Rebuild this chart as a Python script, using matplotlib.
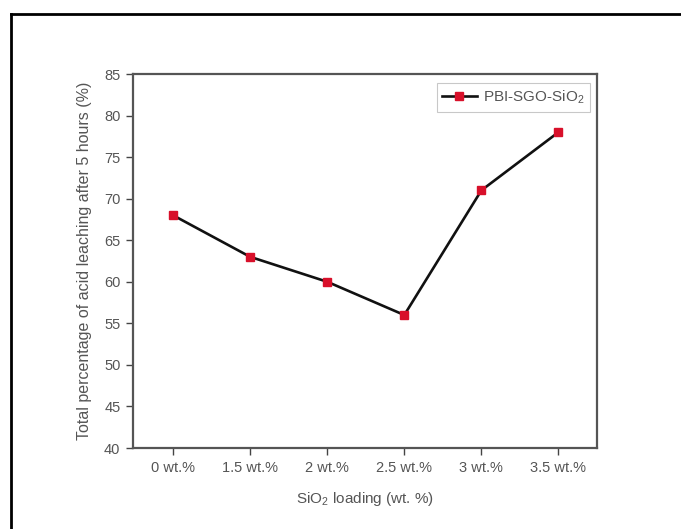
import matplotlib
matplotlib.use("Agg")
import matplotlib.pyplot as plt
from matplotlib.lines import Line2D

categories = ["0 wt.%", "1.5 wt.%", "2 wt.%", "2.5 wt.%", "3 wt.%", "3.5 wt.%"]
values = [68, 63, 60, 56, 71, 78]
series_name = "PBI-SGO-SiO$_2$"
yticks = [40, 45, 50, 55, 60, 65, 70, 75, 80, 85]

plt.rcParams['font.family'] = ['Liberation Sans', 'DejaVu Sans']
plt.rcParams['mathtext.fontset'] = 'custom'
plt.rcParams['mathtext.rm'] = 'Liberation Sans'
txt = "#555555"

fig = plt.figure(figsize=(6.81, 5.29), dpi=100)
W, H = 681, 529
ax = fig.add_axes([133 / W, 1 - 448 / H, (597 - 133) / W, (448 - 74) / H])

x = list(range(len(categories)))
ax.plot(x, values, color="#111111", lw=1.9, marker="s", markersize=5.5,
        markerfacecolor="#d8102a", markeredgecolor="#d8102a", label=series_name)
ax.set_xlim(-0.52, 5.5)
ax.set_ylim(40, 85)
ax.set_xticks(x)
ax.set_xticklabels(categories)
ax.set_yticks(yticks)
ax.tick_params(direction="out", length=5, width=1, colors="#444444", labelcolor=txt, labelsize=10.5, pad=4)
for s in ax.spines.values():
    s.set_linewidth(1.6)
    s.set_color("#555555")
ax.set_ylabel("Total percentage of acid leaching after 5 hours (%)", fontsize=11.5, color=txt, labelpad=9)
ax.set_xlabel("SiO$_2$ loading (wt. %)", fontsize=11, color=txt, labelpad=11)

leg = ax.legend(loc="upper right", fontsize=11, frameon=True, fancybox=False,
                handlelength=2.3, borderpad=0.35, handletextpad=0.4, borderaxespad=0.0,
                bbox_to_anchor=(0.985, 0.975))
leg.get_frame().set_edgecolor("#bbbbbb")
leg.get_frame().set_linewidth(0.8)
for t in leg.get_texts():
    t.set_color(txt)

# outer border (top and left visible)
fig.add_artist(Line2D([11 / W, 1.0], [1 - 14 / H, 1 - 14 / H], color="black", lw=2, transform=fig.transFigure))
fig.add_artist(Line2D([11 / W, 11 / W], [0.0, 1 - 14 / H], color="black", lw=2, transform=fig.transFigure))

fig.savefig("out.png", dpi=100)
